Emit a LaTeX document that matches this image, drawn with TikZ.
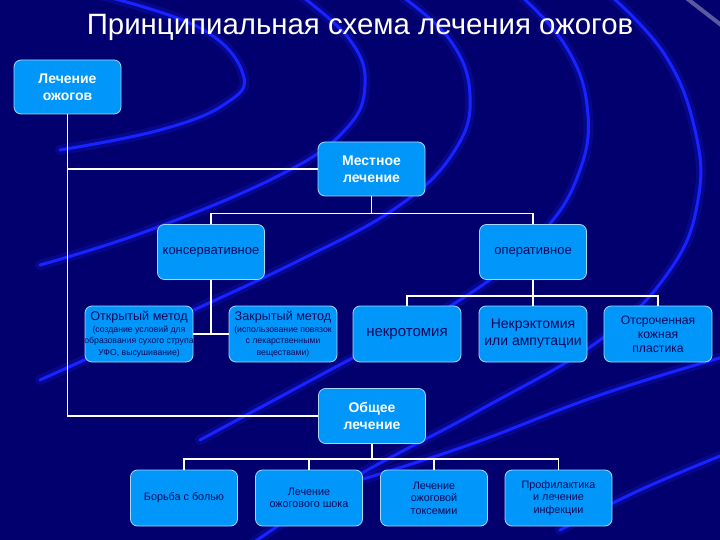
\documentclass[tikz,border=0pt]{standalone}
\usepackage{fontspec}
\setmainfont{Liberation Sans}
\definecolor{bg}{RGB}{2,0,110}
\definecolor{boxblue}{RGB}{0,150,250}
\definecolor{txt}{RGB}{10,10,90}
\definecolor{streak}{RGB}{25,35,255}
\tikzset{
  box/.style={rectangle, rounded corners=7pt, fill=boxblue, draw=white!65!boxblue, line width=0.8pt,
    minimum width=107pt, minimum height=55pt, inner sep=1pt, align=center, text=txt,
    font=\fontsize{13}{15}\selectfont},
  headbox/.style={box, text=white, font=\bfseries\fontsize{14}{17}\selectfont},
  lowbox/.style={box, minimum height=56pt, font=\fontsize{10.8}{12.5}\selectfont},
  midbox/.style={box, minimum width=108pt, minimum height=56pt},
  smallbox/.style={midbox, font=\fontsize{8.7}{11.5}\selectfont},
  conn/.style={draw=white, line width=1.8pt},
  glow/.style={draw=streak, line width=10pt, opacity=0.22, line cap=round},
  streakline/.style={draw=streak, line width=3pt, line cap=round},
}
\begin{document}
\begin{tikzpicture}[x=1pt,y=-1pt]
\useasboundingbox (0,0) rectangle (720,540);
\fill[bg] (0,0) rectangle (720,540);
\begin{scope}
\clip (0,0) rectangle (720,540);
\foreach \s in {glow,streakline}{
  \draw[\s] plot[smooth,tension=0.7] coordinates {(100,-5) (200,28) (243,74) (225,104) (160,130) (60,150)};
  \draw[\s] plot[smooth,tension=0.7] coordinates {(300,-5) (350,40) (365,85) (345,130) (280,175) (150,230) (40,265)};
  \draw[\s] plot[smooth,tension=0.7] coordinates {(400,-5) (450,40) (470,95) (455,150) (400,205) (300,260) (150,330) (40,380)};
  \draw[\s] plot[smooth,tension=0.7] coordinates {(520,-5) (565,45) (587,105) (580,170) (540,235) (460,300) (330,370) (200,440)};
  \draw[\s] plot[smooth,tension=0.7] coordinates {(610,-5) (665,55) (695,130) (698,200) (670,270) (600,340) (480,410) (350,480) (250,545)};
  \draw[\s] plot[smooth,tension=0.7] coordinates {(730,355) (600,395) (460,448) (320,492)};
  \draw[\s] plot[smooth,tension=0.7] coordinates {(730,452) (640,490) (560,530)};
}
\draw[white, opacity=0.35, line width=4pt, line cap=round] (685,-3) -- (725,28);
\end{scope}

\node[font=\fontsize{29.4}{32}\selectfont, text=white] (title) at (360,27) {Принципиальная схема лечения ожогов};

\node[headbox, minimum height=54pt] (root) at (67.5,87) {Лечение\\ожогов};
\node[headbox, minimum height=54pt] (mestnoe) at (371.5,169) {Местное\\лечение};
\node[box] (kons) at (211,252) {консервативное};
\node[box] (oper) at (533,252) {оперативное};
\node[smallbox] (open) at (139,334)
  {\fontsize{12.6}{14}\selectfont Открытый метод\\(создание условий для\\\makebox[100pt]{образования сухого струпа}\\УФО, высушивание)};
\node[smallbox] (closed) at (283,334)
  {\fontsize{12.6}{14}\selectfont Закрытый метод\\(использование повязок\\с лекарственными\\веществами)};
\node[midbox, font=\fontsize{15}{17}\selectfont] (nekrot) at (407,334) {некротомия};
\node[midbox, font=\fontsize{14}{17}\selectfont] (nekrekt) at (533,334) {Некрэктомия\\или ампутации};
\node[midbox, font=\fontsize{12.2}{14}\selectfont] (otsroch) at (658,334) {Отсроченная\\кожная\\пластика};
\node[headbox] (obshee) at (372,416) {Общее\\лечение};
\node[lowbox] (bol) at (184,498) {Борьба с болью};
\node[lowbox] (shok) at (309,498) {Лечение\\ожогового шока};
\node[lowbox] (toks) at (434,498) {Лечение\\ожоговой\\токсемии};
\node[lowbox] (prof) at (558.5,498) {Профилактика\\и лечение\\инфекции};

\coordinate (b1) at (371.5,213.5);
\coordinate (b2) at (533,296);
\coordinate (b3) at (372,459);

\draw[conn] (root.south) |- (obshee.west);
\draw[conn] (root.south |- mestnoe.west) -- (mestnoe.west);
\draw[conn] (mestnoe.south) -- (b1);
\draw[conn] (kons.north) |- (b1) -| (oper.north);
\draw[conn] (kons.south) -- (kons.south |- open.east);
\draw[conn] (open.east) -- (closed.west);
\draw[conn] (oper.south) -- (nekrekt.north);
\draw[conn] (nekrot.north) |- (b2) -| (otsroch.north);
\draw[conn] (obshee.south) -- (b3);
\draw[conn] (bol.north) |- (b3) -| (prof.north);
\draw[conn] (shok.north) -- (shok.north |- b3);
\draw[conn] (toks.north) -- (toks.north |- b3);
\end{tikzpicture}
\end{document}
